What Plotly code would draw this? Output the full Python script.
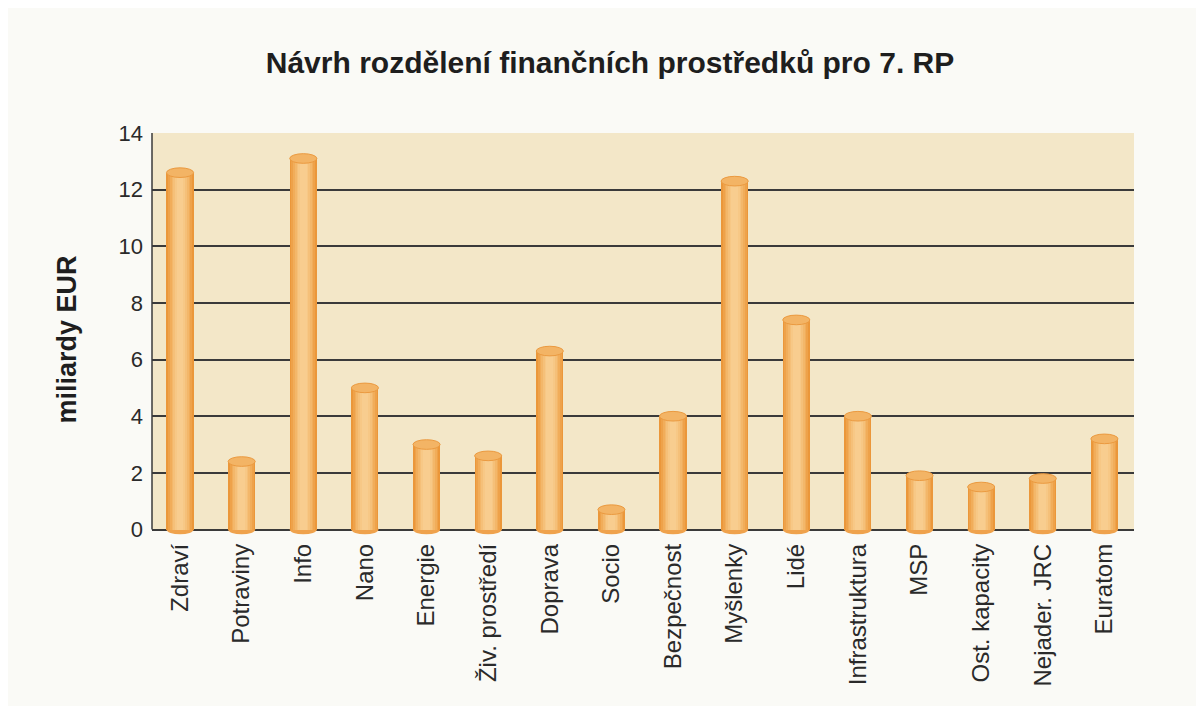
import plotly.graph_objects as go

categories = ["Zdraví", "Potraviny", "Info", "Nano", "Energie", "Živ. prostředí", "Doprava",
              "Socio", "Bezpečnost", "Myšlenky", "Lidé", "Infrastruktura", "MSP",
              "Ost. kapacity", "Nejader. JRC", "Euratom"]
values = [12.6, 2.4, 13.1, 5.0, 3.0, 2.6, 6.3, 0.7, 4.0, 12.3, 7.4, 4.0, 1.9, 1.5, 1.8, 3.2]
y_ticks = [0, 2, 4, 6, 8, 10, 12, 14]

title_text = "Návrh rozdělení finančních prostředků pro 7. RP"
y_title = "miliardy EUR"

NARROW = "Liberation Sans Narrow, Arial Narrow, Liberation Sans, Arial, sans-serif"
REG = "Liberation Sans, Arial, Helvetica, sans-serif"

x = list(range(len(categories)))
BAR_W = 0.44

# cylinder shading: overlay narrower, lighter bars
shade_cols = ["#eb973a", "#eea24a", "#f1ad5a", "#f3b76a", "#f5c079", "#f7c886", "#f8cd8f"]
shade_w = [BAR_W * (1 - i / 8) for i in range(len(shade_cols))]

fig = go.Figure()
for w, c in zip(shade_w, shade_cols):
    fig.add_trace(go.Bar(x=x, y=values, width=w, marker=dict(color=c, line=dict(width=0)),
                         showlegend=False, hoverinfo="skip"))

shapes = []
shapes.append(dict(type="rect", xref="paper", yref="y", x0=0, x1=1, y0=0, y1=14,
                   fillcolor="#f3e7c8", line=dict(width=0), layer="below"))
shapes.append(dict(type="line", xref="paper", yref="y", x0=0, x1=0, y0=0, y1=14,
                   line=dict(color="#3a3a3a", width=1.5), layer="between"))
cap_h = 0.17
for xi, v in zip(x, values):
    shapes.append(dict(type="circle", xref="x", yref="y", x0=xi - BAR_W / 2, x1=xi + BAR_W / 2,
                       y0=-cap_h, y1=cap_h, fillcolor="#efa24c", line=dict(width=0), layer="between"))
    shapes.append(dict(type="circle", xref="x", yref="y", x0=xi - BAR_W / 2, x1=xi + BAR_W / 2,
                       y0=v - cap_h, y1=v + cap_h, fillcolor="#f3b465",
                       line=dict(color="#eb9a40", width=1), layer="above"))

fig.update_layout(
    width=1204, height=706,
    paper_bgcolor="#fafaf6", plot_bgcolor="#fafaf6",
    barmode="overlay", bargap=0,
    margin=dict(l=144, r=78, t=125, b=176),
    shapes=shapes,
    title=dict(text=title_text, x=0.5, xanchor="center", y=1 - 54 / 706, yanchor="middle",
               font=dict(family=NARROW, size=30, color="#1e1e1e", weight="bold")),
    annotations=[dict(text="<b>" + y_title + "</b>", xref="paper", yref="paper",
                      x=(67 - 152) / 982, y=0.49, xanchor="center", yanchor="middle",
                      textangle=-90, showarrow=False,
                      font=dict(family=NARROW, size=27, color="#1e1e1e"))],
)
fig.update_xaxes(range=[-0.455, 15.48], tickvals=x, ticktext=categories, tickangle=-90,
                 showgrid=False, zeroline=False, showline=False, ticks="",
                 tickfont=dict(family=REG, size=24, color="#2a2a2a"))
fig.update_yaxes(range=[-0.3, 14], tickvals=y_ticks, showgrid=True, gridcolor="#3a3a3a",
                 gridwidth=1.5, zeroline=False, showline=False, ticks="",
                 tickfont=dict(family=REG, size=22, color="#2a2a2a"), ticklabelstandoff=8)

fig.write_html("out.html")
